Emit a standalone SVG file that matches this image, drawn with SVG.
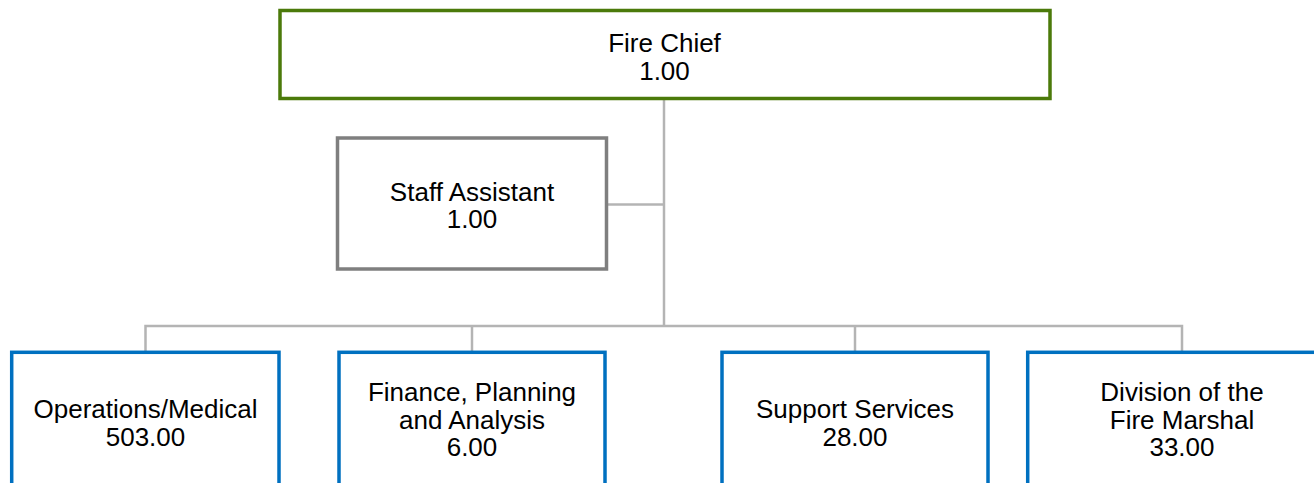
<svg xmlns="http://www.w3.org/2000/svg" width="1314" height="483" viewBox="0 0 1314 483">
<style>
  .box { fill: #ffffff; stroke-width: 3.5; }
  .chief { stroke: #4B7A0A; }
  .staff { stroke: #7F7F7F; }
  .div { stroke: #0070C0; }
  .lbl { font-family: "Liberation Sans", Arial, sans-serif; font-size: 26px; fill: #000000; text-anchor: middle; }
  .conn { stroke: #B4B4B4; stroke-width: 2.5; fill: none; }
</style>
<rect width="1314" height="483" fill="#ffffff"/>
<g id="connectors">
  <path class="conn" d="M664 98.5 V326"/>
  <path class="conn" d="M606.5 204.5 H664"/>
  <path class="conn" d="M145.5 352 V326 H1182 V352"/>
  <path class="conn" d="M472 326 V352"/>
  <path class="conn" d="M855 326 V352"/>
</g>
<g id="fire-chief">
  <rect class="box chief" x="280" y="10.5" width="770" height="88"/>
  <text class="lbl" x="664.5" y="52">Fire Chief</text>
  <text class="lbl" x="664.5" y="79.5">1.00</text>
</g>
<g id="staff-assistant">
  <rect class="box staff" x="337.5" y="138" width="269" height="131"/>
  <text class="lbl" x="472" y="200.5">Staff Assistant</text>
  <text class="lbl" x="472" y="228">1.00</text>
</g>
<g id="operations-medical">
  <rect class="box div" x="11.7" y="352.3" width="267.3" height="160"/>
  <text class="lbl" x="145.5" y="418">Operations/Medical</text>
  <text class="lbl" x="145.5" y="445.5">503.00</text>
</g>
<g id="finance-planning">
  <rect class="box div" x="339" y="352.3" width="266" height="160"/>
  <text class="lbl" x="472" y="401">Finance, Planning</text>
  <text class="lbl" x="472" y="428.5">and Analysis</text>
  <text class="lbl" x="472" y="456">6.00</text>
</g>
<g id="support-services">
  <rect class="box div" x="722" y="352.3" width="266" height="160"/>
  <text class="lbl" x="855" y="418">Support Services</text>
  <text class="lbl" x="855" y="445.5">28.00</text>
</g>
<g id="fire-marshal">
  <rect class="box div" x="1027.7" y="352.3" width="308" height="160"/>
  <text class="lbl" x="1182" y="401">Division of the</text>
  <text class="lbl" x="1182" y="428.5">Fire Marshal</text>
  <text class="lbl" x="1182" y="456">33.00</text>
</g>
</svg>
